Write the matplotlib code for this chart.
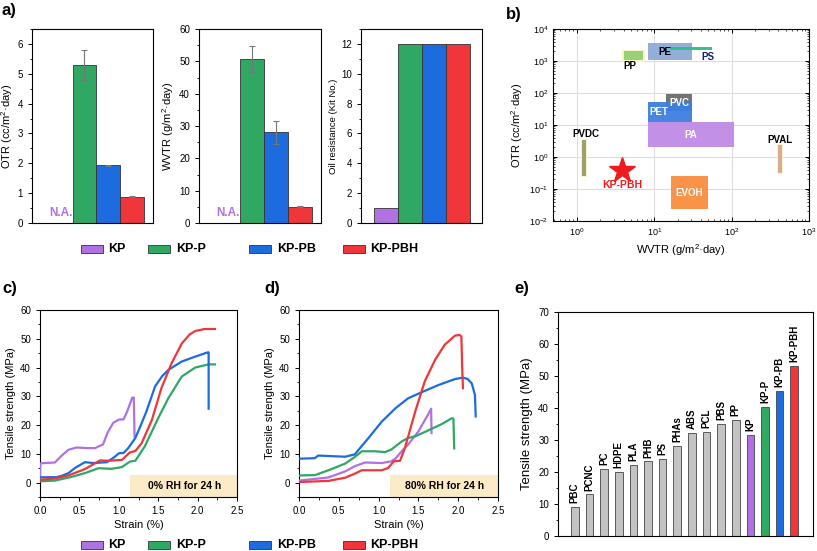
import numpy as np
import matplotlib
matplotlib.use("Agg")
import matplotlib.pyplot as plt
import matplotlib.transforms as mtransforms
from matplotlib.patches import Rectangle
from matplotlib.ticker import MultipleLocator, LogLocator, NullFormatter

plt.rcParams['font.family'] = ['Liberation Sans', 'DejaVu Sans']
plt.rcParams['mathtext.fontset'] = 'custom'
plt.rcParams['mathtext.rm'] = 'Liberation Sans'
plt.rcParams['mathtext.bf'] = 'Liberation Sans:bold'
plt.rcParams['axes.linewidth'] = 0.8

# --- dados -------------------------------------------------------------
samples = ['KP', 'KP-P', 'KP-PB', 'KP-PBH']
sample_colors = ['#b072e2', '#2fa864', '#1c6ce0', '#f0353b']

# a) barreiras
otr = [np.nan, 5.30, 1.93, 0.88]
otr_err = [np.nan, 0.50, 0.03, 0.02]
wvtr = [np.nan, 50.7, 28.0, 5.1]
wvtr_err = [np.nan, 4.0, 3.6, 0.3]
oil_kit = [1, 12, 12, 12]

# b) mapa OTR x WVTR (wvtr min, wvtr max, otr min, otr max)
polymers = ['PP', 'PE', 'PS', 'PVC', 'PET', 'PA', 'PVDC', 'PVAL', 'EVOH']
poly_wvtr_lo = [4.0, 8.4, 16, 14, 8.4, 8.4, 1.17, 400, 16.6]
poly_wvtr_hi = [7.2, 31, 55, 31, 31, 107, 1.30, 450, 49]
poly_otr_lo = [1070, 1070, 2250, 27, 12, 2.0, 0.26, 0.32, 0.023]
poly_otr_hi = [2040, 3600, 2750, 93, 52, 12, 3.4, 2.3, 0.26]
poly_colors = ['#93d070', '#8eaad8', '#2bbf86', '#5a5a5a', '#3d7fe0',
               '#c08ae6', '#9b9b6b', '#d9a98c', '#f98d40']
poly_label_x = [4.8, 13.5, 49, 21, 11.3, 30, 1.3, 425, 28]
poly_label_y = [700, 1900, 1300, 49, 26, 4.9, 5.2, 3.4, 0.075]
poly_label_colors = ['black', 'black', '#14206e', 'white', 'white',
                     'white', 'black', 'black', 'white']
kp_pbh_wvtr = 3.8
kp_pbh_otr = 0.39

# c) 0% RH
c_kp_x = [0, 0.005, 0.19, 0.28, 0.36, 0.46, 0.60, 0.70, 0.80, 0.86, 0.93, 1.00, 1.06, 1.10, 1.17, 1.19, 1.20]
c_kp_y = [1.5, 6.7, 7.0, 9.5, 11.4, 12.2, 12.0, 12.0, 13.3, 17.5, 20.8, 21.9, 22.0, 24.3, 29.5, 29.6, 16.0]
c_kpp_x = [0, 0.19, 0.40, 0.57, 0.74, 0.91, 1.04, 1.14, 1.21, 1.33, 1.50, 1.63, 1.80, 1.97, 2.14, 2.22]
c_kpp_y = [0.46, 0.7, 2.0, 3.3, 5.0, 4.8, 5.4, 7.3, 7.6, 12.6, 22.4, 29.4, 36.9, 40.0, 41.1, 41.1]
c_kppb_x = [0, 0.21, 0.28, 0.36, 0.45, 0.57, 0.68, 0.85, 0.95, 1.00, 1.06, 1.12, 1.21, 1.28, 1.35, 1.46, 1.55, 1.63, 1.80, 1.97, 2.12, 2.14, 2.14]
c_kppb_y = [1.85, 1.9, 2.4, 3.3, 5.2, 7.1, 6.8, 7.1, 9.0, 10.2, 10.3, 12.0, 15.5, 20.0, 24.7, 33.4, 37.0, 39.2, 42.1, 43.8, 45.2, 45.3, 25.7]
c_kppbh_x = [0, 0.19, 0.36, 0.57, 0.76, 0.87, 1.04, 1.14, 1.21, 1.29, 1.42, 1.54, 1.67, 1.80, 1.90, 1.97, 2.09, 2.22]
c_kppbh_y = [1.0, 1.4, 2.5, 4.7, 7.7, 7.6, 7.9, 10.5, 11.0, 13.7, 21.8, 32.8, 41.5, 48.4, 51.5, 52.7, 53.4, 53.4]

# d) 80% RH
d_kp_x = [0, 0.37, 0.58, 0.70, 0.83, 1.04, 1.16, 1.21, 1.29, 1.37, 1.50, 1.62, 1.66, 1.665]
d_kp_y = [0.7, 1.8, 3.9, 5.7, 7.0, 6.8, 7.4, 8.3, 10.9, 13.2, 17.8, 23.6, 25.7, 17.2]
d_kpp_x = [0, 0.2, 0.37, 0.58, 0.70, 0.79, 0.95, 1.08, 1.16, 1.29, 1.37, 1.46, 1.62, 1.79, 1.92, 1.94, 1.95]
d_kpp_y = [2.5, 2.6, 4.3, 6.6, 8.9, 10.9, 10.9, 10.6, 11.5, 14.3, 15.5, 16.1, 18.1, 20.3, 22.4, 22.2, 11.9]
d_kppb_x = [0, 0.2, 0.24, 0.58, 0.70, 0.87, 1.04, 1.21, 1.37, 1.54, 1.75, 1.96, 2.06, 2.12, 2.17, 2.21, 2.22]
d_kppb_y = [8.3, 8.5, 9.4, 9.0, 9.8, 15.4, 21.2, 25.8, 29.3, 31.4, 33.9, 36.0, 36.5, 36.0, 34.5, 30.5, 23.0]
d_kppbh_x = [0, 0.37, 0.58, 0.70, 0.79, 1.04, 1.12, 1.19, 1.27, 1.33, 1.46, 1.58, 1.71, 1.83, 1.96, 2.02, 2.04, 2.05, 2.06]
d_kppbh_y = [0.2, 0.6, 1.7, 3.1, 4.3, 4.3, 5.1, 7.4, 7.6, 12.0, 24.7, 35.2, 42.7, 47.9, 51.1, 51.3, 50.8, 40.0, 32.8]

# e) comparacao
materials = ['PBC', 'PCNC', 'PC', 'HDPE', 'PLA', 'PHB', 'PS', 'PHAs', 'ABS',
             'PCL', 'PBS', 'PP', 'KP', 'KP-P', 'KP-PB', 'KP-PBH']
strength = [9.0, 13.0, 21.0, 20.0, 22.1, 23.3, 24.0, 28.1, 32.2, 32.6,
            35.1, 36.2, 31.5, 40.4, 45.3, 53.1]
material_colors = ['#c3c3c3'] * 12 + sample_colors

W, H = 817, 551
fig = plt.figure(figsize=(W / 100, H / 100), dpi=100)


def px_axes(left, top, right, bottom):
    """ cria eixo a partir de coordenadas em pixel """
    return fig.add_axes([left / W, 1 - bottom / H, (right - left) / W, (bottom - top) / H])


def left_ticks(ax, major, minor, size=7):
    ax.yaxis.set_major_locator(MultipleLocator(major))
    ax.yaxis.set_minor_locator(MultipleLocator(minor))
    ax.tick_params(axis='y', which='major', direction='out', length=3, width=0.7,
                   labelsize=size, right=False)
    ax.tick_params(axis='y', which='minor', direction='out', length=1.8, width=0.6,
                   right=False)


# --- a) ---------------------------------------------------------------
pos = np.arange(len(samples))
panels_a = [(otr, otr_err, 'OTR (cc/m$^2$·day)', (0, 6.5), 1, 0.5, (-1.2, 3.875), 8),
            (wvtr, wvtr_err, 'WVTR (g/m$^2$·day)', (0, 60), 10, 5, (-1.2, 3.875), 8),
            (oil_kit, None, 'Oil resistance (Kit No.)', (0, 13), 2, 1, (-1.04, 4.0), 6.8)]
lefts = [(32, 153), (199, 321), (361, 482)]
for (vals, errs, lab, ylim, maj, mnr, xlim, fs), (l, r) in zip(panels_a, lefts):
    ax = px_axes(l, 29, r, 223)
    for i in range(len(samples)):
        if np.isnan(vals[i]):
            tr = mtransforms.blended_transform_factory(ax.transData, ax.transAxes)
            ax.text(pos[i], 0.05, 'N.A.', color=sample_colors[0], fontsize=8.5,
                    fontweight='bold', ha='center', va='center', transform=tr)
            continue
        ax.bar(pos[i], vals[i], width=1.0, color=sample_colors[i],
               edgecolor='#333333', linewidth=0.6)
        if errs is not None:
            ax.errorbar(pos[i], vals[i], yerr=errs[i], color='#777777',
                        elinewidth=0.8, capsize=2.5, capthick=0.8)
    ax.set_xlim(*xlim)
    ax.set_ylim(*ylim)
    ax.set_xticks([])
    left_ticks(ax, maj, mnr)
    ax.set_ylabel(lab, fontsize=fs, labelpad=2)

# legendas (topo e base)
leg_patch_x = [81, 148, 249, 343]
leg_text_x = [108, 176, 277, 370]
for yc in [249, 545]:
    for i, name in enumerate(samples):
        fig.patches.append(Rectangle((leg_patch_x[i] / W, 1 - (yc + 4) / H), 22 / W, 8 / H,
                                     transform=fig.transFigure, facecolor=sample_colors[i],
                                     edgecolor='#333333', linewidth=0.6))
        fig.text(leg_text_x[i] / W, 1 - yc / H, name, fontsize=9, fontweight='bold',
                 ha='left', va='center')

# --- b) ---------------------------------------------------------------
axb = px_axes(553, 29, 809, 221)
axb.set_xscale('log')
axb.set_yscale('log')
axb.set_xlim(0.49, 1000)
axb.set_ylim(0.01, 1e4)
axb.grid(True, which='major', color='#dddddd', linewidth=0.8, zorder=0)
axb.set_axisbelow(True)
glow = ['PP', 'PVDC', 'PVAL']
for i, name in enumerate(polymers):
    x0, x1 = poly_wvtr_lo[i], poly_wvtr_hi[i]
    y0, y1 = poly_otr_lo[i], poly_otr_hi[i]
    if name in glow:
        axb.add_patch(Rectangle((x0 * 0.96, y0 * 0.9), x1 * 1.04 - x0 * 0.96, y1 * 1.1 - y0 * 0.9,
                                facecolor='#f8f4cc', edgecolor='none', zorder=2))
    alpha = 0.85 if name == 'PVC' else 0.95
    axb.add_patch(Rectangle((x0, y0), x1 - x0, y1 - y0, facecolor=poly_colors[i],
                            edgecolor='none', alpha=alpha, zorder=3))
    axb.text(poly_label_x[i], poly_label_y[i], name, color=poly_label_colors[i],
             fontsize=7, fontweight='bold', ha='center', va='center', zorder=5)
axb.plot(kp_pbh_wvtr, kp_pbh_otr, marker='*', markersize=19, color='#ee1c1c',
         linestyle='none', zorder=6)
axb.text(3.9, 0.133, 'KP-PBH', color='#ee1c1c', fontsize=7.5, fontweight='bold',
         ha='center', va='center', zorder=6)
axb.xaxis.set_minor_locator(LogLocator(base=10, subs=np.arange(2, 10), numticks=20))
axb.yaxis.set_minor_locator(LogLocator(base=10, subs=np.arange(2, 10), numticks=20))
axb.xaxis.set_minor_formatter(NullFormatter())
axb.yaxis.set_minor_formatter(NullFormatter())
axb.tick_params(which='both', direction='in', top=True, right=True, labelsize=6.5)
axb.tick_params(which='major', length=3, width=0.7)
axb.tick_params(which='minor', length=1.6, width=0.5)
axb.set_xlabel('WVTR (g/m$^2$·day)', fontsize=8, labelpad=3)
axb.set_ylabel('OTR (cc/m$^2$·day)', fontsize=8, labelpad=3)

# --- c) e d) ----------------------------------------------------------
curves_c = [(c_kp_x, c_kp_y), (c_kpp_x, c_kpp_y), (c_kppb_x, c_kppb_y), (c_kppbh_x, c_kppbh_y)]
curves_d = [(d_kp_x, d_kp_y), (d_kpp_x, d_kpp_y), (d_kppb_x, d_kppb_y), (d_kppbh_x, d_kppbh_y)]
for curves, (l, r), cond in [(curves_c, (40, 237), '0% RH for 24 h'),
                             (curves_d, (299, 498), '80% RH for 24 h')]:
    ax = px_axes(l, 310, r, 497)
    ax.add_patch(Rectangle((1.14, -5), 2.5 - 1.14, 7.7, facecolor='#fcebc6',
                           edgecolor='none', zorder=1))
    ax.text(1.83, -1.3, cond, fontsize=7.5, fontweight='bold', ha='center',
            va='center', zorder=2)
    for (xs, ys), col in zip(curves, sample_colors):
        ax.plot(xs, ys, color=col, linewidth=1.6, zorder=3)
    ax.set_xlim(0, 2.5)
    ax.set_ylim(-5, 60)
    ax.xaxis.set_major_locator(MultipleLocator(0.5))
    ax.xaxis.set_minor_locator(MultipleLocator(0.25))
    ax.xaxis.set_major_formatter(plt.FormatStrFormatter('%.1f'))
    ax.tick_params(axis='x', which='major', direction='out', length=3, width=0.7,
                   labelsize=7, top=False)
    ax.tick_params(axis='x', which='minor', direction='out', length=1.8, width=0.6, top=False)
    left_ticks(ax, 10, 5)
    ax.set_xlabel('Strain (%)', fontsize=8, labelpad=3)
    ax.set_ylabel('Tensile strength (MPa)', fontsize=8, labelpad=3)

# --- e) ---------------------------------------------------------------
axe = px_axes(558, 312, 813, 536)
xe = np.arange(len(materials))
axe.bar(xe, strength, width=0.52, color=material_colors, edgecolor='#444444', linewidth=0.6)
for i, name in enumerate(materials):
    axe.text(xe[i], strength[i] + 1.2, name, rotation=90, fontsize=7, fontweight='bold',
             ha='center', va='bottom')
axe.set_xlim(-1.15, 16.28)
axe.set_ylim(0, 70)
axe.set_xticks([])
left_ticks(axe, 10, 5)
axe.set_ylabel('Tensile strength (MPa)', fontsize=9.5, labelpad=4)

# rotulos dos paineis
for txt, x, y in [('a)', 2, 10), ('b)', 506, 14), ('c)', 2, 288), ('d)', 264, 288), ('e)', 514, 288)]:
    fig.text(x / W, 1 - y / H, txt, fontsize=12, fontweight='bold', ha='left', va='center')

fig.savefig('out.png', dpi=100)
